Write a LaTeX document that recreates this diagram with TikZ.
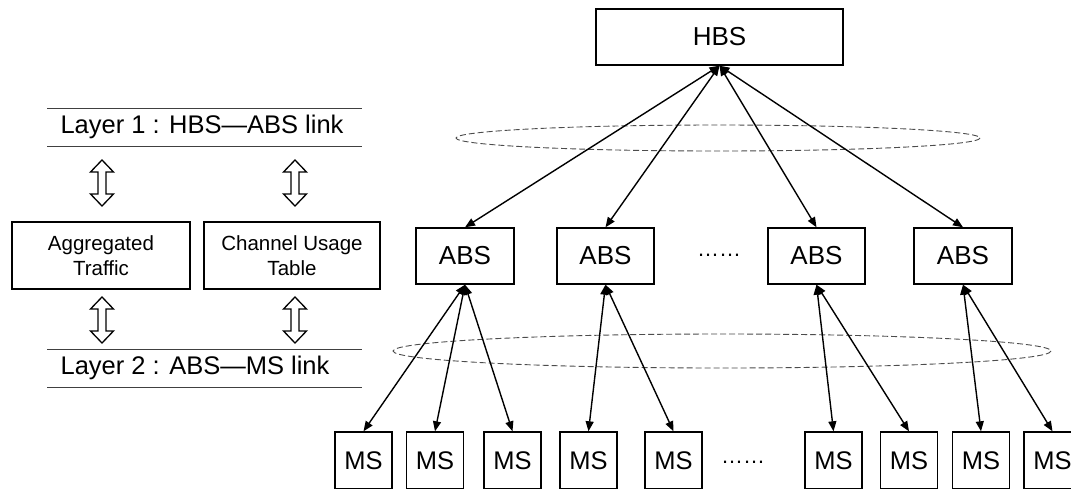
\documentclass[tikz,border=0pt]{standalone}
\usepackage{fontspec}
\setmainfont{Liberation Sans}
\usetikzlibrary{arrows.meta}
\begin{document}
\begin{tikzpicture}[x=1pt,y=-1pt,
  box/.style={draw,line width=1.4pt,inner sep=0pt,minimum height=56pt},
  bigbox/.style={box,font=\fontsize{26}{30}\selectfont},
  msbox/.style={box,minimum width=57pt,minimum height=57pt,font=\fontsize{25.5}{30}\selectfont},
  infobox/.style={draw,line width=1.4pt,inner sep=0pt,minimum height=67pt,align=center,font=\fontsize{20.5}{25}\selectfont},
  conn/.style={line width=1.4pt,{Triangle[length=10pt,width=8pt]}-{Triangle[length=10pt,width=8pt]}},
  ring/.style={draw=black!70,line width=0.9pt,dash pattern=on 6pt off 3pt},
  layerline/.style={draw=black!75,line width=1pt},
  layertxt/.style={font=\fontsize{25.5}{30}\selectfont,inner sep=0pt},
  hollow/.style={draw,line width=1.3pt,fill=white,line join=miter},
  dots/.style={font=\fontsize{22}{26}\selectfont,inner sep=0pt,anchor=base}
]
\clip (0,0) rectangle (1071,488);
\fill[white] (0,0) rectangle (1071,488);

% rings
\draw[ring] (718,138) ellipse [x radius=262, y radius=13];
\draw[ring] (722,351) ellipse [x radius=329, y radius=17];

% top hierarchy
\node[bigbox,minimum width=247pt] (hbs) at (719.5,37) {HBS};
\node[bigbox,minimum width=98pt] (abs1) at (465,256) {ABS};
\node[bigbox,minimum width=97pt] (abs2) at (605.5,256) {ABS};
\node[bigbox,minimum width=97pt] (abs3) at (816.5,256) {ABS};
\node[bigbox,minimum width=98pt] (abs4) at (963,256) {ABS};
\node[dots] (dotsA) at (719,256) {……};

\node[msbox] (ms1) at (363.5,460.5) {MS};
\node[msbox] (ms2) at (435,460.5) {MS};
\node[msbox] (ms3) at (512.5,460.5) {MS};
\node[msbox] (ms4) at (588.5,460.5) {MS};
\node[msbox] (ms5) at (673.5,460.5) {MS};
\node[msbox] (ms6) at (833.5,460.5) {MS};
\node[msbox] (ms7) at (909,460.5) {MS};
\node[msbox] (ms8) at (981,460.5) {MS};
\node[msbox] (ms9) at (1052.5,460.5) {MS};
\node[dots] (dotsB) at (743,463) {……};

\foreach \a in {abs1,abs2,abs3,abs4}{\draw[conn] (hbs.south) -- (\a.north);}
\draw[conn] (abs1.south) -- (ms1.north);
\draw[conn] (abs1.south) -- (ms2.north);
\draw[conn] (abs1.south) -- (ms3.north);
\draw[conn] (abs2.south) -- (ms4.north);
\draw[conn] (abs2.south) -- (ms5.north);
\draw[conn] (abs3.south) -- (ms6.north);
\draw[conn] (abs3.south) -- (ms7.north);
\draw[conn] (abs4.south) -- (ms8.north);
\draw[conn] (abs4.south) -- (ms9.north);

% left legend
\draw[layerline] (47,108) -- (362,108);
\draw[layerline] (47,146) -- (362,146);
\node[layertxt] (layer1) at (202,127) {Layer 1 : HBS—ABS link};
\draw[layerline] (47,349) -- (362,349);
\draw[layerline] (47,387) -- (362,387);
\node[layertxt] (layer2) at (195,368) {Layer 2 : ABS—MS link};

\node[infobox,minimum width=178pt] (agg) at (101,255.5) {Aggregated\\Traffic};
\node[infobox,minimum width=176pt] (cut) at (292,255.5) {Channel Usage\\Table};

\foreach \cx/\ty in {102/160,295/160,102/297,295/297}{
  \draw[hollow] (\cx,\ty) -- ++(11.5,12) -- ++(-7.5,0) -- ++(0,22) -- ++(7.5,0)
    -- ++(-11.5,12) -- ++(-11.5,-12) -- ++(7.5,0) -- ++(0,-22) -- ++(-7.5,0) -- cycle;
}
\end{tikzpicture}
\end{document}
